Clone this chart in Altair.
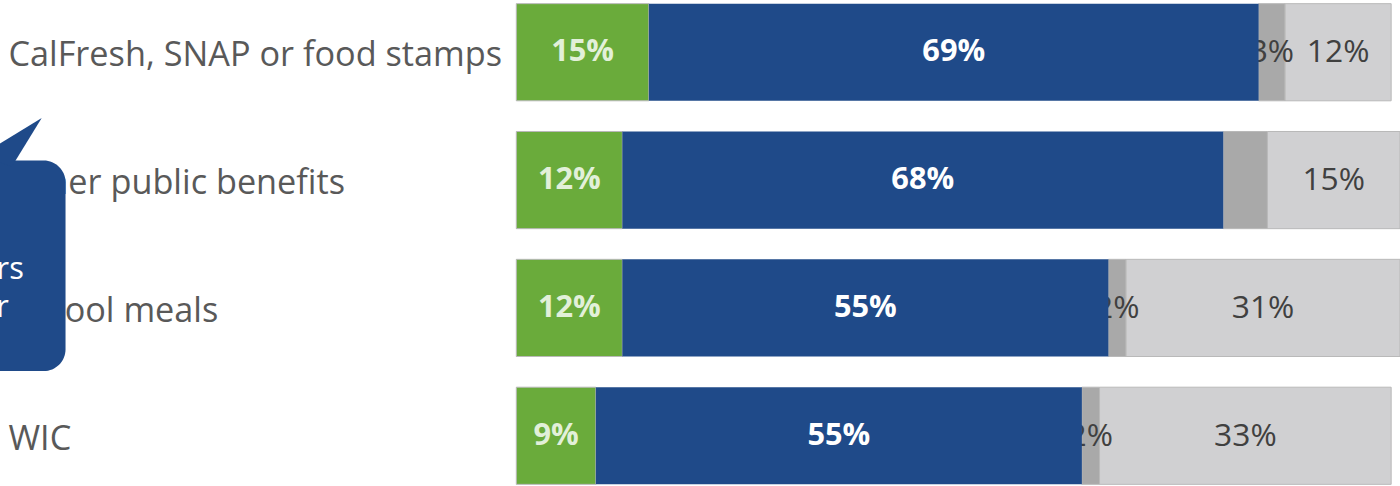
import altair as alt
import pandas as pd

# ---- data ----
categories = ["CalFresh, SNAP or food stamps", "Other public benefits", "School meals", "WIC"]
segments = ["green", "blue", "gray", "light"]
green_vals = [15, 12, 12, 9]
blue_vals = [69, 68, 55, 55]
gray_vals = [3, 5, 2, 2]
light_vals = [12, 15, 31, 33]
gray_label_shown = [True, False, True, True]

seg_colors = ["#6aab3b", "#1f4a89", "#a9a9a9", "#d0d0d2"]
label_colors = {"green": "#e2f0d9", "blue": "#ffffff", "gray": "#404040", "light": "#404040"}

rows = []
for i, c in enumerate(categories):
    for j, (s, vals) in enumerate(zip(segments, [green_vals, blue_vals, gray_vals, light_vals])):
        show = gray_label_shown[i] if s == "gray" else True
        rows.append({"cat": c, "seg": s, "order": j, "value": vals[i],
                     "label": f"{vals[i]}%" if show else "",
                     "tcolor": label_colors[s]})
df = pd.DataFrame(rows)

FONT = "Open Sans"
LEFT = 520

base = alt.Chart(df).transform_stack(
    stack="value", groupby=["cat"], sort=[alt.SortField("order")], as_=["x0", "x1"]
).transform_calculate(mid="(datum.x0 + datum.x1) / 2")

xs = alt.Scale(domain=[0, 100], nice=False, zero=False)
ys = alt.Scale(domain=categories, paddingInner=0.24, paddingOuter=0.015)

yaxis = alt.Axis(ticks=False, tickSize=0, domain=False, labelAlign="left",
                 labelPadding=LEFT - 8, labelFont=FONT, labelFontSize=34.5,
                 labelColor="#595959", labelLimit=600, labelBaseline="middle",
                 labelOverlap=False, labelOffset=4)
yenc = alt.Y("cat:N", scale=ys, sort=categories, title=None, axis=yaxis)
xaxis = None

color = alt.Color("seg:N", scale=alt.Scale(domain=segments, range=seg_colors), legend=None)

bars_back = base.transform_filter("datum.seg != 'blue'").mark_bar(
    stroke="#b8b8b8", strokeWidth=1
).encode(x=alt.X("x0:Q", scale=xs, axis=xaxis), x2="x1:Q", y=yenc, color=color)

gray_text = base.transform_filter("datum.seg == 'gray'").mark_text(
    font=FONT, fontSize=32, color="#404040", baseline="middle", align="center"
).encode(x=alt.X("mid:Q", scale=xs, axis=xaxis), y=yenc, text="label:N")

bars_blue = base.transform_filter("datum.seg == 'blue'").mark_bar().encode(
    x=alt.X("x0:Q", scale=xs, axis=xaxis), x2="x1:Q", y=yenc, color=color)

bold_text = base.transform_filter("datum.seg == 'green' || datum.seg == 'blue'").mark_text(
    font=FONT, fontSize=31, fontWeight="bold", baseline="middle", align="center"
).encode(x=alt.X("mid:Q", scale=xs, axis=xaxis), y=yenc, text="label:N",
         color=alt.Color("tcolor:N", scale=None))

light_text = base.transform_filter("datum.seg == 'light'").mark_text(
    font=FONT, fontSize=32, color="#404040", baseline="middle", align="center"
).encode(x=alt.X("mid:Q", scale=xs, axis=xaxis), y=yenc, text="label:N")

# ---- speech-bubble callout overlay (decoration) ----
one = alt.Chart(pd.DataFrame({"a": [0]}))
bubble = one.mark_rect(color="#1f4a89", cornerRadius=22).encode(
    x=alt.value(-40 - LEFT), x2=alt.value(66 - LEFT), y=alt.value(160), y2=alt.value(372))
tail = one.mark_point(
    shape="M0.775,-0.6L-0.775,0.35L0.025,0.625Z", filled=True, size=6400,
    color="#1f4a89", opacity=1
).encode(x=alt.value(11 - LEFT), y=alt.value(141))
btext1 = one.mark_text(text="rs", font=FONT, fontSize=31, color="white",
                       align="right", baseline="alphabetic").encode(
    x=alt.value(24 - LEFT), y=alt.value(279))
btext2 = one.mark_text(text="r", font=FONT, fontSize=31, color="white",
                       align="right", baseline="alphabetic").encode(
    x=alt.value(9 - LEFT), y=alt.value(318))

chart = alt.layer(bars_back, gray_text, bars_blue, bold_text, light_text,
                  bubble, tail, btext1, btext2).properties(
    width=890, height=488,
    autosize=alt.AutoSizeParams(type="none"),
    padding={"left": LEFT, "top": 0, "right": 0, "bottom": 0},
    background="white",
).configure_view(stroke=None)

chart.save("out.html", embed_options={"renderer": "svg", "actions": False})
